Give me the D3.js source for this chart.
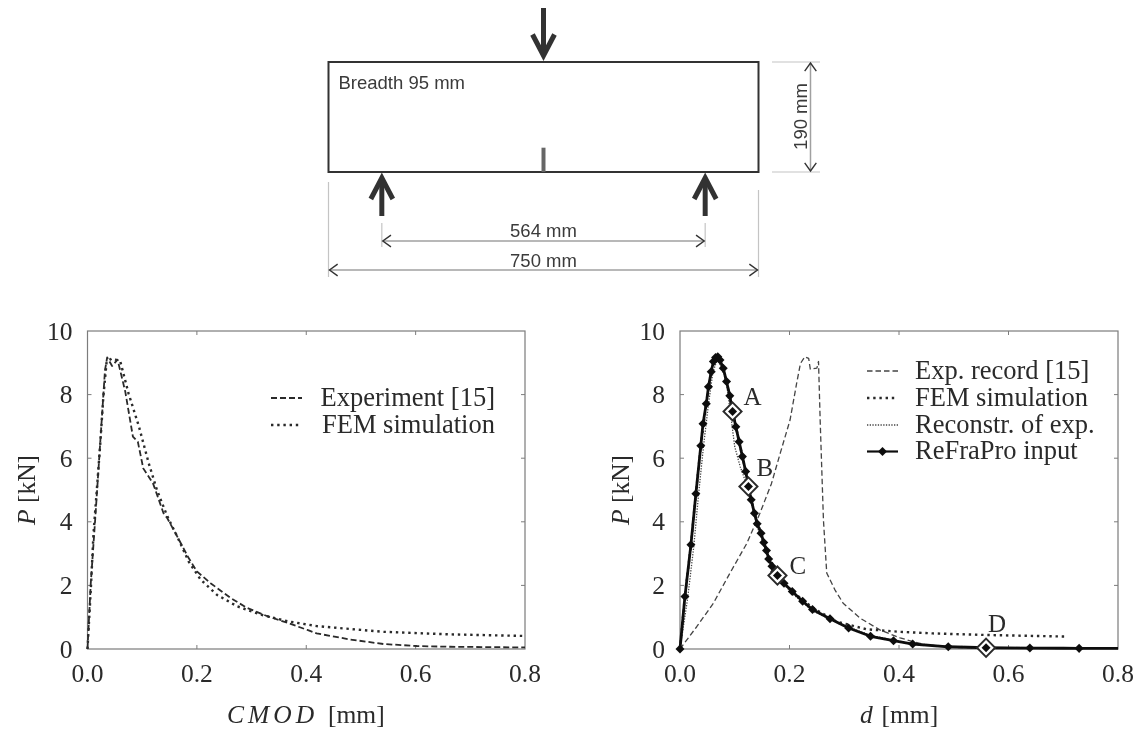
<!DOCTYPE html>
<html>
<head>
<meta charset="utf-8">
<script src="https://cdn.jsdelivr.net/npm/d3@7"></script>
<style>
  html, body { margin: 0; padding: 0; background: #fff; }
  text { fill: #2a2a2a; }
  .serif { font-family: "Liberation Serif", serif; font-size: 25.5px; }
  .legend { font-family: "Liberation Serif", serif; font-size: 26.5px; }
  .state { font-family: "Liberation Serif", serif; font-size: 25px; }
  .sans { font-family: "Liberation Sans", sans-serif; font-size: 18.5px; fill: #3a3a3a; }
</style>
</head>
<body>
<svg id="chart" width="1142" height="731"></svg>
<script>
// ----- Data -----
const xTicks = [0, 0.2, 0.4, 0.6, 0.8];
const yTicks = [0, 2, 4, 6, 8, 10];

// Left plot: P against CMOD
const expCmod = [0, 0.006, 0.014, 0.02, 0.026, 0.032, 0.036, 0.045, 0.055, 0.069, 0.083, 0.092, 0.102, 0.12, 0.139, 0.146, 0.164, 0.185, 0.2, 0.225, 0.262, 0.292, 0.329, 0.366, 0.402, 0.419, 0.48, 0.541, 0.602, 0.663, 0.8];
const expLoad = [0, 2.07, 4.06, 5.63, 7.2, 8.77, 9.17, 8.9, 9.1, 8.1, 6.68, 6.52, 5.68, 5.2, 4.27, 4.11, 3.54, 2.86, 2.44, 2.07, 1.6, 1.29, 1.03, 0.82, 0.6, 0.49, 0.3, 0.157, 0.094, 0.07, 0.05];
const femCmod = [0, 0.006, 0.011, 0.017, 0.023, 0.029, 0.035, 0.045, 0.06, 0.075, 0.094, 0.112, 0.127, 0.146, 0.164, 0.185, 0.207, 0.237, 0.274, 0.317, 0.366, 0.419, 0.541, 0.663, 0.8];
const femLoad = [0, 1.86, 3.64, 5.0, 6.37, 7.94, 9.04, 9.14, 9.04, 8.04, 7.0, 5.84, 5.0, 4.17, 3.54, 2.75, 2.18, 1.7, 1.34, 1.08, 0.87, 0.72, 0.54, 0.46, 0.41];

// Right plot: P against d
const recordD = [0, 0.0305, 0.061, 0.091, 0.122, 0.146, 0.167, 0.183, 0.201, 0.213, 0.22, 0.228, 0.235, 0.238, 0.25, 0.253, 0.256, 0.262, 0.268, 0.283, 0.298, 0.329, 0.365, 0.402, 0.426, 0.45, 0.5, 0.56];
const recordP = [0, 0.7, 1.44, 2.38, 3.32, 4.27, 5.2, 6.15, 7.2, 8.35, 8.98, 9.19, 9.14, 8.8, 8.83, 9.04, 7.2, 4.06, 2.39, 1.86, 1.44, 0.97, 0.6, 0.35, 0.23, 0.13, 0.05, 0.03];
const femD = [0, 0.009, 0.02, 0.029, 0.038, 0.048, 0.057, 0.065, 0.073, 0.085, 0.096, 0.114, 0.136, 0.158, 0.178, 0.205, 0.242, 0.286, 0.341, 0.402, 0.462, 0.56, 0.707];
const femP = [0, 1.65, 3.28, 4.88, 6.39, 7.71, 8.72, 9.17, 9.09, 8.41, 7.47, 6.05, 4.27, 3.1, 2.31, 1.81, 1.3, 0.86, 0.62, 0.54, 0.49, 0.44, 0.39];
const reconD = [0, 0.014, 0.025, 0.034, 0.043, 0.052, 0.06, 0.068, 0.079, 0.085, 0.0945, 0.1, 0.11, 0.119, 0.13, 0.14, 0.16, 0.178, 0.205, 0.242, 0.29, 0.35, 0.425, 0.5];
const reconP = [0, 1.6, 3.2, 4.88, 6.39, 7.7, 8.7, 9.1, 8.77, 8.35, 7.1, 6.36, 5.73, 5.3, 4.7, 3.9, 3.0, 2.25, 1.75, 1.2, 0.8, 0.42, 0.16, 0.06];
const inputD = [0, 0.009, 0.02, 0.029, 0.038, 0.042, 0.048, 0.052, 0.057, 0.061, 0.065, 0.069, 0.073, 0.079, 0.085, 0.091, 0.096, 0.102, 0.108, 0.114, 0.12, 0.125, 0.13, 0.136, 0.141, 0.148, 0.153, 0.158, 0.162, 0.168, 0.173, 0.178, 0.19, 0.205, 0.224, 0.242, 0.274, 0.308, 0.348, 0.39, 0.425, 0.49, 0.559, 0.639, 0.729, 0.85];
const inputP = [0, 1.65, 3.28, 4.88, 6.39, 7.08, 7.71, 8.25, 8.72, 9.04, 9.17, 9.19, 9.09, 8.83, 8.41, 7.96, 7.47, 6.99, 6.52, 6.05, 5.58, 5.11, 4.69, 4.27, 3.94, 3.64, 3.35, 3.1, 2.83, 2.6, 2.44, 2.31, 2.07, 1.81, 1.5, 1.24, 0.95, 0.66, 0.4, 0.26, 0.157, 0.07, 0.04, 0.03, 0.02, 0.02];

// Marked states on the ReFraPro input
const stateNames = ["A", "B", "C", "D"];
const stateD = [0.096, 0.125, 0.178, 0.559];
const stateP = [7.47, 5.11, 2.31, 0.04];

// Beam geometry in mm
const beamLength = 750;
const beamDepth = 190;
const beamSpan = 564;
const notchDepth = 42;

// ----- Setup -----
const svg = d3.select("#chart");
const INK = "#2a2a2a";
const FRAME = "#7c7c7c";
const PLOT_TOP = 331, PLOT_BOTTOM = 649;

// the reference is a soft scan, so keep everything a touch blurred
const defs = svg.append("defs");
defs.append("filter").attr("id", "soft")
  .append("feGaussianBlur").attr("stdDeviation", 0.45);

const root = svg.append("g").attr("filter", "url(#soft)");

const y = d3.scaleLinear().domain([0, 10]).range([PLOT_BOTTOM, PLOT_TOP]);

function zipped(xs, ys) {
  return xs.map((v, i) => [v, ys[i]]);
}

// ----- One plot frame with its axes -----
function makePlot(id, left, right, titleX) {
  const x = d3.scaleLinear().domain([0, 0.8]).range([left, right]);
  const g = root.append("g");

  defs.append("clipPath").attr("id", id)
    .append("rect")
    .attr("x", left - 6).attr("y", PLOT_TOP)
    .attr("width", right - left + 6).attr("height", PLOT_BOTTOM - PLOT_TOP + 6);

  g.append("rect")
    .attr("x", left).attr("y", PLOT_TOP)
    .attr("width", right - left).attr("height", PLOT_BOTTOM - PLOT_TOP)
    .attr("fill", "none").attr("stroke", FRAME).attr("stroke-width", 1.2);

  // small inward ticks on all four sides
  xTicks.slice(1, -1).forEach(t => {
    g.append("line").attr("x1", x(t)).attr("x2", x(t)).attr("y1", PLOT_BOTTOM).attr("y2", PLOT_BOTTOM - 4).attr("stroke", FRAME);
    g.append("line").attr("x1", x(t)).attr("x2", x(t)).attr("y1", PLOT_TOP).attr("y2", PLOT_TOP + 4).attr("stroke", FRAME);
  });
  yTicks.slice(1, -1).forEach(t => {
    g.append("line").attr("x1", left).attr("x2", left + 4).attr("y1", y(t)).attr("y2", y(t)).attr("stroke", FRAME);
    g.append("line").attr("x1", right).attr("x2", right - 4).attr("y1", y(t)).attr("y2", y(t)).attr("stroke", FRAME);
  });

  g.selectAll(".xlab").data(xTicks).enter().append("text")
    .attr("class", "serif")
    .attr("x", d => x(d)).attr("y", 682)
    .attr("text-anchor", "middle")
    .text(d => d.toFixed(1));

  g.selectAll(".ylab").data(yTicks).enter().append("text")
    .attr("class", "serif")
    .attr("x", left - 15).attr("y", d => y(d) + 8.5)
    .attr("text-anchor", "end")
    .text(d => d);

  // y axis title: italic P, upright unit
  const yTitle = g.append("text")
    .attr("class", "serif")
    .attr("text-anchor", "middle")
    .attr("transform", `translate(${titleX},490) rotate(-90)`);
  yTitle.append("tspan").attr("font-style", "italic").text("P");
  yTitle.append("tspan").text(" [kN]");

  return { x, g, clip: `url(#${id})` };
}

function drawCurve(plot, points, opts) {
  const line = d3.line().x(d => plot.x(d[0])).y(d => y(d[1]));
  plot.g.append("path")
    .datum(points)
    .attr("clip-path", plot.clip)
    .attr("d", line)
    .attr("fill", "none")
    .attr("stroke", opts.color || INK)
    .attr("stroke-width", opts.width)
    .attr("stroke-dasharray", opts.dash)
    .attr("stroke-linejoin", "round");
}

function legendRow(g, x1, x2, rowY, textX, label, opts, anchor) {
  g.append("line")
    .attr("x1", x1).attr("x2", x2).attr("y1", rowY).attr("y2", rowY)
    .attr("stroke", opts.color || INK)
    .attr("stroke-width", opts.width)
    .attr("stroke-dasharray", opts.dash);
  g.append("text")
    .attr("class", "legend")
    .attr("x", textX).attr("y", rowY + 7.5)
    .attr("text-anchor", anchor)
    .text(label);
}

const DASHED = { width: 1.8, dash: "6 3" };
const DOTTED = { width: 2.4, dash: "2.4 3.8" };
const THIN_DASHED = { width: 1.3, dash: "5.5 3", color: "#444" };
const FINE_DOTTED = { width: 1.3, dash: "1.3 1.4", color: "#444" };
const SOLID = { width: 2.8, dash: null, color: "#111" };

// ----- Left plot -----
const leftPlot = makePlot("clipLeft", 87.5, 525, 35);
drawCurve(leftPlot, zipped(expCmod, expLoad), DASHED);
drawCurve(leftPlot, zipped(femCmod, femLoad), DOTTED);
legendRow(leftPlot.g, 271, 302, 398, 495, "Experiment [15]", DASHED, "end");
legendRow(leftPlot.g, 271, 302, 425, 495, "FEM simulation", DOTTED, "end");

const leftTitle = leftPlot.g.append("text")
  .attr("class", "serif").attr("x", 227).attr("y", 723);
leftTitle.append("tspan").attr("font-style", "italic").attr("letter-spacing", 4).text("CMOD");
leftTitle.append("tspan").attr("x", 328).text("[mm]");

// ----- Right plot -----
const rightPlot = makePlot("clipRight", 680, 1118, 629);
drawCurve(rightPlot, zipped(recordD, recordP), THIN_DASHED);
drawCurve(rightPlot, zipped(reconD, reconP), FINE_DOTTED);
drawCurve(rightPlot, zipped(femD, femP), DOTTED);
drawCurve(rightPlot, zipped(inputD, inputP), SOLID);

const marker = d3.symbol().type(d3.symbolDiamond2).size(52)();
rightPlot.g.append("g").attr("clip-path", rightPlot.clip)
  .selectAll("path").data(zipped(inputD, inputP)).enter().append("path")
  .attr("d", marker)
  .attr("transform", d => `translate(${rightPlot.x(d[0])},${y(d[1])})`)
  .attr("fill", "#111");

// open diamonds around the marked states, white inside with the marker on top
const stateG = rightPlot.g.selectAll(".stateMark").data(zipped(stateD, stateP)).enter().append("g")
  .attr("transform", d => `translate(${rightPlot.x(d[0])},${y(d[1])})`);
stateG.append("path")
  .attr("d", d3.symbol().type(d3.symbolDiamond2).size(210)())
  .attr("fill", "#fff").attr("stroke", INK).attr("stroke-width", 1.9);
stateG.append("path").attr("d", marker).attr("fill", "#111");

const stateOffsetX = [11, 8, 12, 2];
const stateOffsetY = [-6, -11, -2, -16];
rightPlot.g.selectAll(".stateLabel").data(stateNames).enter().append("text")
  .attr("class", "state")
  .attr("x", (d, i) => rightPlot.x(stateD[i]) + stateOffsetX[i])
  .attr("y", (d, i) => y(stateP[i]) + stateOffsetY[i])
  .text(d => d);

legendRow(rightPlot.g, 867, 898, 371, 915, "Exp. record [15]", THIN_DASHED, "start");
legendRow(rightPlot.g, 867, 898, 398, 915, "FEM simulation", DOTTED, "start");
legendRow(rightPlot.g, 867, 898, 425, 915, "Reconstr. of exp.", FINE_DOTTED, "start");
legendRow(rightPlot.g, 867, 898, 451.5, 915, "ReFraPro input", { width: 2.2, dash: null, color: "#111" }, "start");
rightPlot.g.append("path")
  .attr("d", marker)
  .attr("transform", "translate(882.5,451.5)")
  .attr("fill", "#111");

const rightTitle = rightPlot.g.append("text")
  .attr("class", "serif").attr("x", 860).attr("y", 723);
rightTitle.append("tspan").attr("font-style", "italic").text("d");
rightTitle.append("tspan").attr("x", 881.5).text("[mm]");

// ----- Beam sketch -----
const beamX = d3.scaleLinear().domain([0, beamLength]).range([328.5, 758.5]);
const beamY = d3.scaleLinear().domain([0, beamDepth]).range([172, 62]);
const beam = root.append("g");
const midX = beamX(beamLength / 2);
const supportL = beamX((beamLength - beamSpan) / 2);
const supportR = beamX((beamLength + beamSpan) / 2);

beam.append("rect")
  .attr("x", beamX(0)).attr("y", beamY(beamDepth))
  .attr("width", beamX(beamLength) - beamX(0))
  .attr("height", beamY(0) - beamY(beamDepth))
  .attr("fill", "none").attr("stroke", "#333").attr("stroke-width", 2);

beam.append("line")
  .attr("x1", midX).attr("x2", midX)
  .attr("y1", beamY(notchDepth)).attr("y2", beamY(0))
  .attr("stroke", "#666").attr("stroke-width", 4);

// load arrow: shaft plus a chevron head, dir is +1 pointing down, -1 pointing up
function loadArrow(ax, tipY, tailY, dir) {
  const g = beam.append("g").attr("fill", "none").attr("stroke", "#333").attr("stroke-width", 5);
  g.append("line").attr("x1", ax).attr("x2", ax).attr("y1", tailY).attr("y2", tipY - dir * 6);
  g.append("path").attr("d", d3.line()([[ax - 11, tipY - dir * 26], [ax, tipY - dir * 5], [ax + 11, tipY - dir * 26]]));
}
loadArrow(midX, 60.5, 8, 1);
loadArrow(supportL, 173, 216, -1);
loadArrow(supportR, 173, 216, -1);

// gray dimension line with open heads at both ends
function dimLine(x1, y1, x2, y2) {
  const g = beam.append("g").attr("fill", "none");
  g.append("line").attr("x1", x1).attr("y1", y1).attr("x2", x2).attr("y2", y2)
    .attr("stroke", "#a0a0a0").attr("stroke-width", 1.5);
  const ang = Math.atan2(y2 - y1, x2 - x1);
  [[x1, y1, ang], [x2, y2, ang + Math.PI]].forEach(([px, py, a]) => {
    const w = 0.62, len = 10;
    g.append("path")
      .attr("d", d3.line()([
        [px + len * Math.cos(a + w), py + len * Math.sin(a + w)],
        [px, py],
        [px + len * Math.cos(a - w), py + len * Math.sin(a - w)]
      ]))
      .attr("stroke", "#333").attr("stroke-width", 1.4);
  });
}
function extLine(x1, y1, x2, y2) {
  beam.append("line").attr("x1", x1).attr("y1", y1).attr("x2", x2).attr("y2", y2)
    .attr("stroke", "#c4c4c4").attr("stroke-width", 1.2);
}

extLine(beamX(0), 182, beamX(0), 277);
extLine(beamX(beamLength), 190, beamX(beamLength), 277);
extLine(supportL, 223, supportL, 247);
extLine(supportR, 223, supportR, 247);
extLine(772, beamY(beamDepth), 820, beamY(beamDepth));
extLine(772, beamY(0), 820, beamY(0));

dimLine(supportL + 1, 241, supportR - 1, 241);
dimLine(beamX(0) + 1, 270, beamX(beamLength) - 1, 270);
dimLine(810.5, beamY(beamDepth) + 1, 810.5, beamY(0) - 1);

beam.append("text").attr("class", "sans").attr("x", 338.5).attr("y", 89).text("Breadth 95 mm");
beam.append("text").attr("class", "sans").attr("x", midX).attr("y", 237).attr("text-anchor", "middle").text(`${beamSpan} mm`);
beam.append("text").attr("class", "sans").attr("x", midX).attr("y", 266.5).attr("text-anchor", "middle").text(`${beamLength} mm`);
beam.append("text").attr("class", "sans")
  .attr("text-anchor", "middle")
  .attr("transform", `translate(806.5,116.5) rotate(-90)`)
  .text(`${beamDepth} mm`);
</script>
</body>
</html>
